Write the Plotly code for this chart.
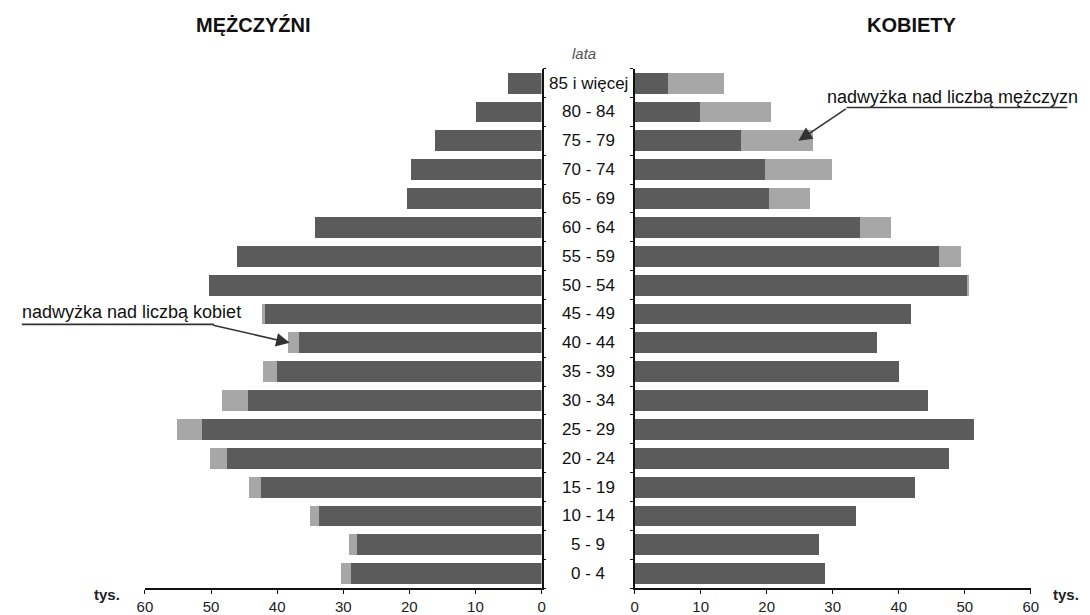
import plotly.graph_objects as go

# ---- data (thousands) ----
ages = ["0 - 4", "5 - 9", "10 - 14", "15 - 19", "20 - 24", "25 - 29", "30 - 34",
        "35 - 39", "40 - 44", "45 - 49", "50 - 54", "55 - 59", "60 - 64",
        "65 - 69", "70 - 74", "75 - 79", "80 - 84", "85 i więcej"]
men = [30.4, 29.2, 35.0, 44.3, 50.1, 55.1, 48.4, 42.1, 38.3, 42.3, 50.35, 46.1,
       34.2, 20.4, 19.8, 16.1, 9.9, 5.0]
women = [28.9, 27.9, 33.6, 42.4, 47.6, 51.4, 44.4, 40.0, 36.7, 41.9, 50.6, 49.5,
         38.8, 26.5, 29.9, 27.0, 20.6, 13.6]
xticks = [0, 10, 20, 30, 40, 50, 60]

common = [min(m, w) for m, w in zip(men, women)]
men_surplus = [max(m - w, 0) for m, w in zip(men, women)]
women_surplus = [max(w - m, 0) for m, w in zip(men, women)]

W, H = 1090, 615
DARK = "#5b5b5b"
LIGHT = "#a7a7a7"
FONT = "Liberation Sans, Arial, sans-serif"

def px(x):
    return x / W

def py(y):
    return 1 - y / H

fig = go.Figure()
fig.add_trace(go.Bar(y=ages, x=common, orientation="h", xaxis="x", yaxis="y",
                     marker=dict(color=DARK, line=dict(width=0)), showlegend=False))
fig.add_trace(go.Bar(y=ages, x=men_surplus, orientation="h", xaxis="x", yaxis="y",
                     marker=dict(color=LIGHT, line=dict(width=0)), showlegend=False))
fig.add_trace(go.Bar(y=ages, x=common, orientation="h", xaxis="x2", yaxis="y2",
                     marker=dict(color=DARK, line=dict(width=0)), showlegend=False))
fig.add_trace(go.Bar(y=ages, x=women_surplus, orientation="h", xaxis="x2", yaxis="y2",
                     marker=dict(color=LIGHT, line=dict(width=0)), showlegend=False))

ydom = [py(591), py(69)]
xcommon = dict(range=[0, 60], tickvals=xticks, showgrid=False, zeroline=False,
               showline=True, linecolor="#111", linewidth=1.5,
               ticks="outside", ticklen=4, tickcolor="#111", tickwidth=1.2,
               tickfont=dict(family=FONT, size=15, color="#222"), fixedrange=True)
ycommon = dict(type="category", categoryorder="array", categoryarray=ages,
               range=[-0.5, len(ages) - 0.5], showgrid=False, zeroline=False,
               showline=True, linecolor="#111", linewidth=1.5,
               ticks="outside", tickson="boundaries", ticklen=3, tickcolor="#111",
               showticklabels=False, domain=ydom, fixedrange=True)

fig.update_layout(
    width=W, height=H,
    margin=dict(l=0, r=0, t=0, b=0),
    paper_bgcolor="white", plot_bgcolor="white",
    barmode="stack", bargap=0.276,
    xaxis=dict(xcommon, domain=[px(139), px(541.5)], range=[60, 0], anchor="y"),
    xaxis2=dict(xcommon, domain=[px(636), px(1038)], anchor="y2"),
    yaxis=dict(ycommon, anchor="x", side="right"),
    yaxis2=dict(ycommon, anchor="x2", side="left", matches="y"),
    font=dict(family=FONT),
)

ann = []
for i, a in enumerate(ages):
    ann.append(dict(text=a, xref="paper", yref="y", x=px(589), y=i,
                    xanchor="center", yanchor="middle", showarrow=False,
                    font=dict(family=FONT, size=17, color="#111")))

ann += [
    dict(text="<b>MĘŻCZYŹNI</b>", xref="paper", yref="paper", x=px(249), y=py(25),
         xanchor="center", yanchor="middle", showarrow=False,
         font=dict(family=FONT, size=20, color="#111")),
    dict(text="<b>KOBIETY</b>", xref="paper", yref="paper", x=px(917), y=py(25),
         xanchor="center", yanchor="middle", showarrow=False,
         font=dict(family=FONT, size=20, color="#111")),
    dict(text="<i>lata</i>", xref="paper", yref="paper", x=px(585), y=py(54),
         xanchor="center", yanchor="middle", showarrow=False,
         font=dict(family=FONT, size=15, color="#555")),
    dict(text="<b>tys.</b>", xref="paper", yref="paper", x=px(100), y=py(597),
         xanchor="center", yanchor="middle", showarrow=False,
         font=dict(family=FONT, size=15, color="#222")),
    dict(text="<b>tys.</b>", xref="paper", yref="paper", x=px(1074), y=py(597),
         xanchor="center", yanchor="middle", showarrow=False,
         font=dict(family=FONT, size=15, color="#222")),
    dict(text="nadwyżka nad liczbą mężczyzn", xref="paper", yref="paper",
         x=px(829), y=py(97), xanchor="left", yanchor="middle", showarrow=False,
         font=dict(family=FONT, size=18, color="#111")),
    dict(text="nadwyżka nad liczbą kobiet", xref="paper", yref="paper",
         x=px(12), y=py(314), xanchor="left", yanchor="middle", showarrow=False,
         font=dict(family=FONT, size=18, color="#111")),
    # arrows
    dict(text="", xref="x2", yref="y", x=24.8, y=ages.index("75 - 79"),
         ax=49, ay=-33, showarrow=True, arrowhead=2, arrowsize=1.7,
         arrowwidth=1.6, arrowcolor="#333", standoff=0),
    dict(text="", xref="x", yref="y", x=38.1, y=ages.index("40 - 44"),
         ax=-78, ay=-18, showarrow=True, arrowhead=2, arrowsize=1.7,
         arrowwidth=1.6, arrowcolor="#333", standoff=0),
]
fig.update_layout(annotations=ann)

fig.update_layout(shapes=[
    dict(type="line", xref="paper", yref="paper", x0=px(851), x1=px(1075),
         y0=py(108), y1=py(108), line=dict(color="#333", width=1.6)),
    dict(type="line", xref="paper", yref="paper", x0=px(14), x1=px(209),
         y0=py(326), y1=py(326), line=dict(color="#333", width=1.6)),
])

fig.write_html("out.html", config=dict(displayModeBar=False),
               post_script="document.body.style.margin='0';"
                           "document.body.style.overflow='hidden';")
